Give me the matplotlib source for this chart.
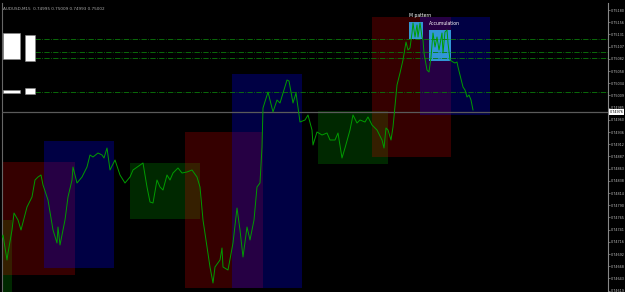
import matplotlib.pyplot as plt
import matplotlib.patches as mpatches
import numpy as np

# bar index and close price
bars = [0, 3, 7, 8, 12, 14, 18, 21, 27, 32, 35, 38, 41, 43, 48, 53, 57, 58, 60, 65,
        68, 72, 73, 77, 82, 87, 90, 93, 98, 102, 104, 107, 110, 115, 120, 125, 130, 133, 143, 147,
        150, 153, 157, 160, 163, 167, 170, 173, 178, 182, 187, 192, 197, 200, 203, 207, 210, 213, 215, 220,
        222, 223, 228, 233, 237, 240, 243, 247, 250, 254, 257, 260, 262, 263, 268, 273, 277, 280, 287, 289,
        293, 296, 300, 305, 308, 312, 313, 317, 322, 327, 330, 335, 338, 342, 345, 350, 353, 357, 360, 365,
        368, 372, 377, 382, 384, 386, 388, 391, 393, 397, 400, 403, 406, 408, 410, 412, 413, 415, 417, 418,
        420, 422, 423, 424, 427, 429, 431, 433, 435, 437, 439, 442, 443, 445, 447, 448, 450, 453, 455, 457,
        458, 460, 463, 465, 467, 469, 471, 473]
close = [0.74714, 0.74730, 0.74680, 0.74694, 0.74740, 0.74774, 0.74760, 0.74740, 0.74786, 0.74806,
         0.74840, 0.74846, 0.74850, 0.74830, 0.74800, 0.74740, 0.74714, 0.74746, 0.74710, 0.74760,
         0.74806, 0.74840, 0.74866, 0.74834, 0.74846, 0.74866, 0.74890, 0.74886, 0.74894, 0.74890,
         0.74884, 0.74904, 0.74860, 0.74880, 0.74850, 0.74834, 0.74846, 0.74860, 0.74874, 0.74826,
         0.74796, 0.74794, 0.74840, 0.74826, 0.74820, 0.74850, 0.74840, 0.74854, 0.74864, 0.74854,
         0.74856, 0.74860, 0.74846, 0.74826, 0.74760, 0.74706, 0.74666, 0.74634, 0.74666, 0.74680,
         0.74704, 0.74666, 0.74660, 0.74714, 0.74784, 0.74740, 0.74686, 0.74746, 0.74720, 0.74760,
         0.74826, 0.74834, 0.74906, 0.74984, 0.75016, 0.74976, 0.75000, 0.74994, 0.75040, 0.75038,
         0.74994, 0.75014, 0.74956, 0.74960, 0.74970, 0.74940, 0.74910, 0.74936, 0.74930, 0.74934,
         0.74920, 0.74920, 0.74934, 0.74884, 0.74904, 0.74940, 0.74970, 0.74954, 0.74960, 0.74956,
         0.74966, 0.74950, 0.74940, 0.74920, 0.74904, 0.74944, 0.74940, 0.74920, 0.74946, 0.75030,
         0.75054, 0.75080, 0.75116, 0.75100, 0.75104, 0.75134, 0.75154, 0.75126, 0.75150, 0.75126,
         0.75154, 0.75126, 0.75120, 0.75094, 0.75060, 0.75056, 0.75086, 0.75134, 0.75106, 0.75126,
         0.75100, 0.75134, 0.75094, 0.75136, 0.75140, 0.75114, 0.75080, 0.75076, 0.75074, 0.75076,
         0.75066, 0.75050, 0.75026, 0.75020, 0.75006, 0.75010, 0.75000, 0.74980]

bid = 0.74976
levels = [0.75122, 0.75096, 0.75084, 0.75016]

# zones: (start bar, end bar, top price, bottom price, kind)
zones = [
    (-2, 12, 0.74760, 0.74590, "green"),
    (0, 75, 0.74876, 0.74650, "red"),
    (44, 114, 0.74918, 0.74664, "blue"),
    (130, 200, 0.74874, 0.74762, "green"),
    (185, 263, 0.74936, 0.74624, "red"),
    (232, 302, 0.75052, 0.74624, "blue"),
    (318, 388, 0.74978, 0.74872, "green"),
    (372, 451, 0.75166, 0.74886, "red"),
    (420, 490, 0.75166, 0.74970, "blue"),
]
zone_colors = {"red": ("#ff0000", 0.21), "blue": ("#0000ff", 0.27), "green": ("#00ff00", 0.16)}

patterns = [("M pattern", 409, 423, 0.75156, 0.75122),
            ("Accumulation", 429, 451, 0.75140, 0.75078)]

tick_top, tick_step, n_ticks = 0.75180, 0.000244, 24

fig = plt.figure(figsize=(6.25, 2.92), dpi=100, facecolor="black")
ax = fig.add_axes([2 / 625, 0, 606 / 625, 289 / 292], facecolor="black")
ax.set_xlim(2, 608)
ax.set_ylim(0.74616, 0.75194)

for x0, x1, top, bot, kind in zones:
    c, a = zone_colors[kind]
    ax.add_patch(mpatches.Rectangle((x0, bot), x1 - x0, top - bot, facecolor=c,
                                    alpha=a, edgecolor="none", zorder=1))

for name, x0, x1, top, bot in patterns:
    ax.add_patch(mpatches.Rectangle((x0, bot), x1 - x0, top - bot, facecolor="#33a8e8",
                                    alpha=0.9, edgecolor="none", zorder=2))
    ax.text(x0, top + 0.00010, name, color="white", fontsize=3.3, zorder=5)

for lv in levels:
    ax.axhline(lv, xmin=(35 - 2) / 606, color="#0b7a0b", lw=0.6, ls="-.", zorder=3)
ax.axhline(bid, color="#5a5a5a", lw=0.9, zorder=3)

ax.plot(bars, close, color="#009c00", lw=0.7, zorder=4)

# white label boxes on the left
for x0, x1, top, bot in [(3, 20, 0.75134, 0.75082), (25, 35, 0.75130, 0.75078),
                         (3, 20, 0.75020, 0.75014), (25, 35, 0.75024, 0.75012)]:
    ax.add_patch(mpatches.Rectangle((x0, bot), x1 - x0, top - bot, facecolor="white",
                                    edgecolor="#888888", lw=0.4, zorder=6))

ax.text(3, 0.75180, "AUDUSD,M15  0.74995 0.75009 0.74993 0.75002", color="#aaaaaa",
        fontsize=3.0, zorder=6)

ticks = tick_top - tick_step * np.arange(n_ticks)
ax.yaxis.tick_right()
ax.set_yticks(ticks)
ax.set_yticklabels([f"{t:.5f}" for t in ticks])
ax.tick_params(axis="y", colors="#bbbbbb", labelsize=2.4, length=1.5, width=0.4, pad=0.8)
ax.set_xticks([])
for s in ["top", "bottom"]:
    ax.spines[s].set_visible(False)
ax.spines["right"].set_color("#888888")
ax.spines["right"].set_linewidth(0.8)
ax.spines["left"].set_color("#666666")
ax.spines["left"].set_linewidth(0.8)

ax.text(1.003, bid, f"{bid:.5f}", transform=ax.get_yaxis_transform(), fontsize=2.4,
        color="black", va="center", ha="left",
        bbox=dict(facecolor="white", edgecolor="none", pad=0.4), zorder=7, clip_on=False)

fig.savefig("out.png", dpi=100, facecolor="black")
